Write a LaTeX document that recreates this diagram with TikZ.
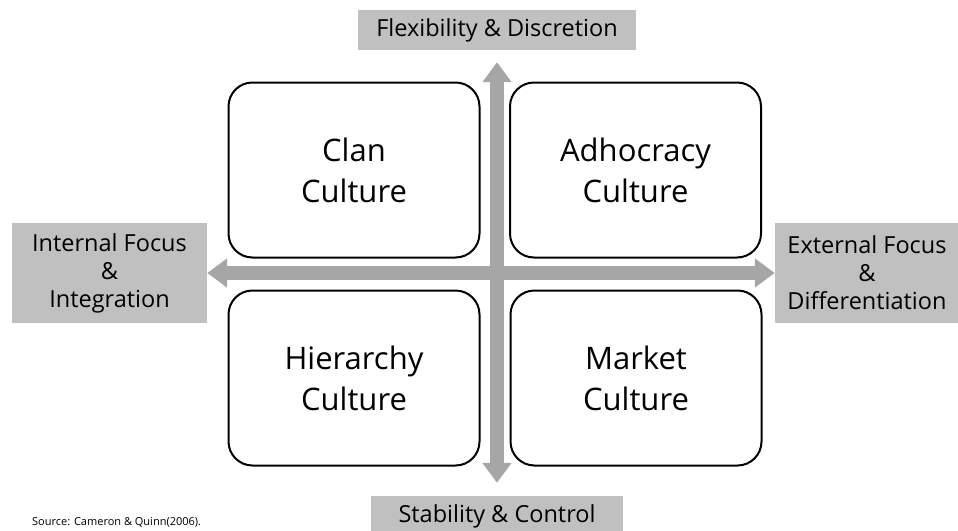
\documentclass[tikz,border=0pt]{standalone}
\usepackage{fontspec}
\setmainfont{Open Sans}
\usetikzlibrary{arrows.meta}
\definecolor{labelgray}{RGB}{192,192,192}
\definecolor{arrowgray}{RGB}{166,166,166}
\tikzset{
  culturebox/.style={draw=black, line width=2pt, rounded corners=24pt, minimum width=251pt, minimum height=175pt, inner sep=0pt, align=center, font=\fontsize{31}{41}\selectfont},
  axislabel/.style={fill=labelgray, inner sep=0pt, align=center, font=\fontsize{23.5}{28}\selectfont},
  axisarrow/.style={draw=arrowgray, line width=14pt, {Triangle[width=28pt,length=20pt]}-{Triangle[width=28pt,length=20pt]}}
}
\begin{document}
\begin{tikzpicture}[x=1pt,y=-1pt]
\useasboundingbox (0,0) rectangle (958,530);
\node[axislabel, minimum width=278pt, minimum height=40pt] (top) at (497,30) {Flexibility \& Discretion};
\node[axislabel, minimum width=252pt, minimum height=40pt] (bottom) at (497,516) {Stability \& Control};
\node[axislabel, minimum width=195pt, minimum height=100pt] (left) at (109.5,273) {Internal Focus\\\&\\Integration};
\node[axislabel, minimum width=184pt, minimum height=100pt] (right) at (867,273) {External Focus\\\&\\Differentiation};
\draw[axisarrow] (left.east) -- (right.west);
\draw[axisarrow, shorten <=13pt, shorten >=12pt] (bottom.north) -- (top.south);
\node[culturebox] (clan) at (354,170) {Clan\\Culture};
\node[culturebox] (adhoc) at (635.5,170) {Adhocracy\\Culture};
\node[culturebox] (hier) at (354,378) {Hierarchy\\Culture};
\node[culturebox] (market) at (636,378) {Market\\Culture};
\node[anchor=west, inner sep=0pt, font=\fontsize{11}{12}\selectfont] (source) at (32,522) {Source: Cameron \& Quinn(2006).};
\end{tikzpicture}
\end{document}
